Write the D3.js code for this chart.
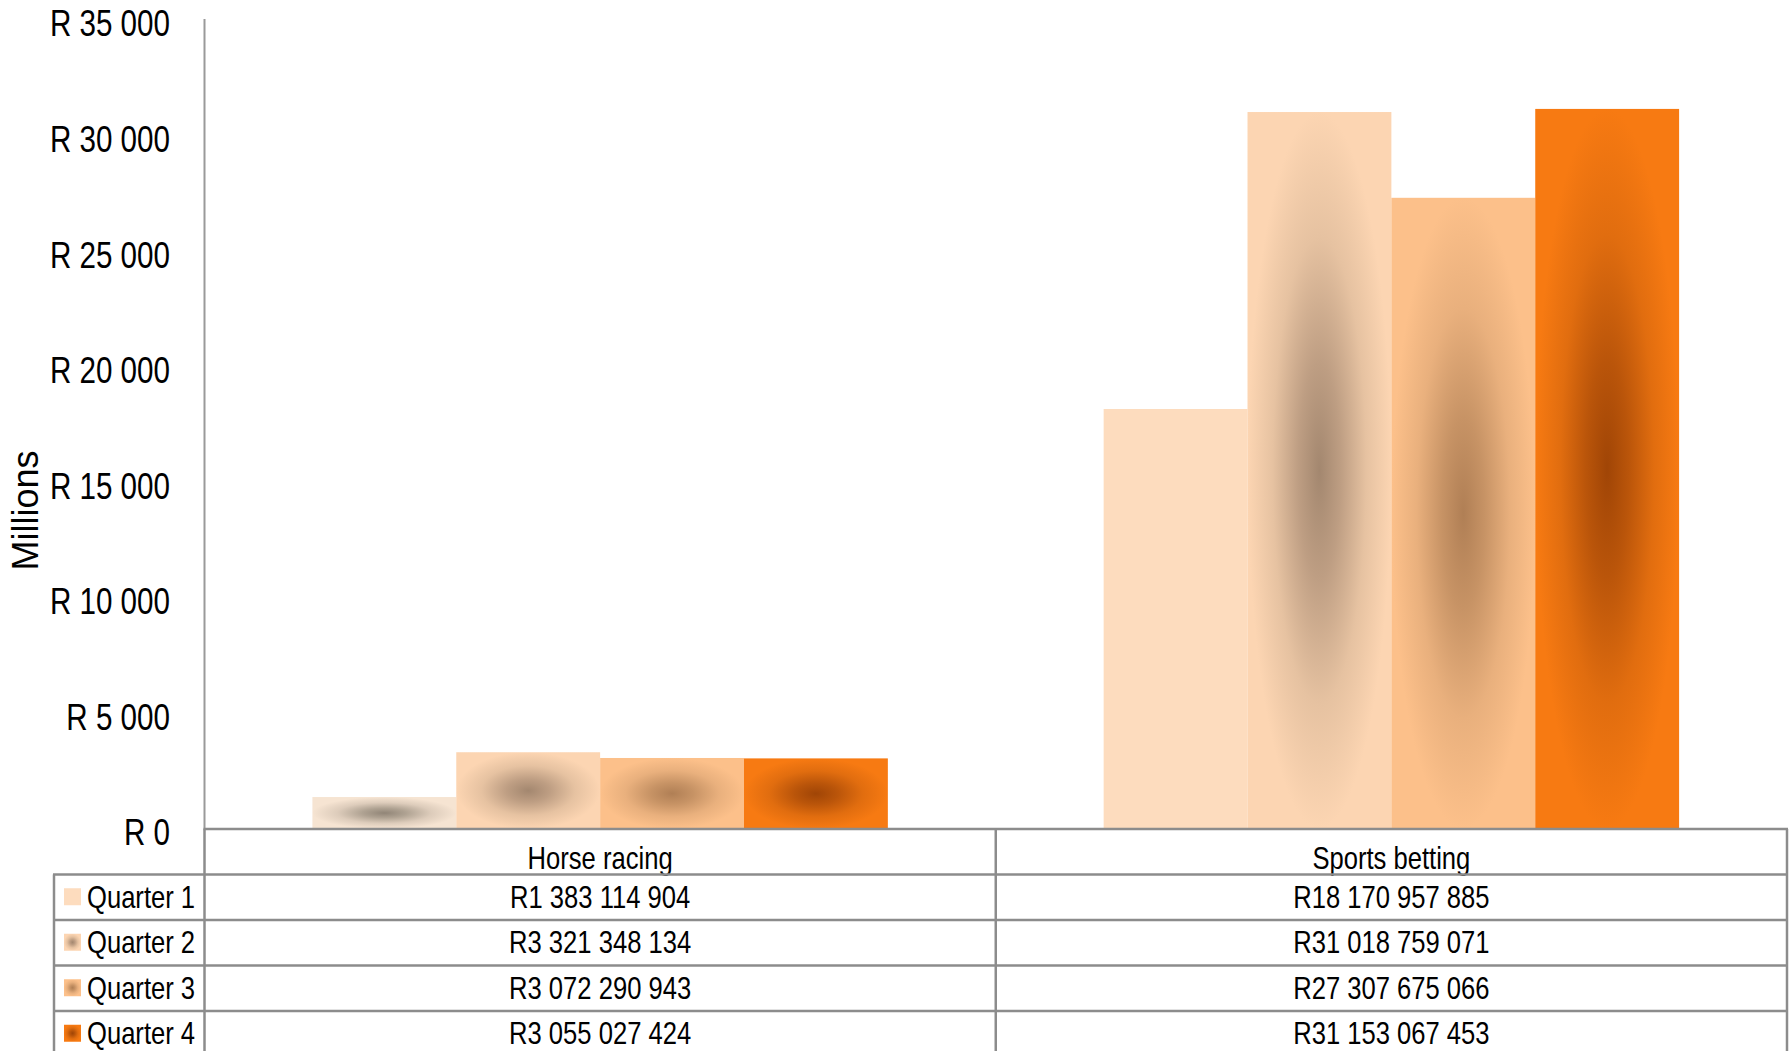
<!DOCTYPE html>
<html>
<head>
<meta charset="utf-8">
<script src="https://cdn.jsdelivr.net/npm/d3@7"></script>
<style>
  html, body { margin: 0; padding: 0; background: #fff; }
  svg { display: block; font-family: "Liberation Sans", Arial, sans-serif; }
</style>
</head>
<body>
<svg id="chart" width="1791" height="1051"></svg>
<script>
// Gambling turnover per quarter, in rand
const categories = ["Horse racing", "Sports betting"];
const quarters = ["Quarter 1", "Quarter 2", "Quarter 3", "Quarter 4"];
const horseRacing = [1383114904, 3321348134, 3072290943, 3055027424];
const sportsBetting = [18170957885, 31018759071, 27307675066, 31153067453];
const yTickValues = [0, 5000, 10000, 15000, 20000, 25000, 30000, 35000]; // millions
const yAxisTitle = "Millions";

const valuesByCategory = { "Horse racing": horseRacing, "Sports betting": sportsBetting };

// Fill styles per quarter: edge colour and centre colour of a centred radial shading
const quarterStyles = [
  { edge: "#f6e4d2", centre: "#918577", flat: "#fddcbe" },
  { edge: "#fcd5b2", centre: "#a3876f" },
  { edge: "#fcc08a", centre: "#b07f55" },
  { edge: "#f77a12", centre: "#a04506" }
];

const W = 1791, H = 1051;
const plotLeft = 204.5, plotRight = 1787, plotTop = 20, baseY = 829;
const rowH = 45.5, legendLeft = 54;
const squeeze = 0.8;                 // horizontal condensing of the label face
const lineColor = "#8c8c8c";

const svg = d3.select("#chart");
const defs = svg.append("defs");

quarterStyles.forEach((s, i) => {
  const mix = d3.interpolateRgb(s.centre, s.edge);
  const g = defs.append("radialGradient").attr("id", "qgrad" + i)
    .attr("cx", 0.5).attr("cy", 0.5).attr("r", 0.5);
  g.append("stop").attr("offset", 0).attr("stop-color", s.centre);
  g.append("stop").attr("offset", 0.3).attr("stop-color", mix(0.3));
  g.append("stop").attr("offset", 0.65).attr("stop-color", mix(0.75));
  g.append("stop").attr("offset", 1).attr("stop-color", s.edge);
});

function fillFor(cat, qi) {
  const s = quarterStyles[qi];
  if (s.flat && cat === "Sports betting") return s.flat;
  return "url(#qgrad" + qi + ")";
}

// Scales
const y = d3.scaleLinear().domain([0, 35000]).range([baseY, plotTop]);
const x0 = d3.scaleBand().domain(categories).range([plotLeft, plotRight]).paddingInner(0).paddingOuter(0);
const x1 = d3.scaleBand().domain(quarters).range([0, x0.bandwidth()]).paddingInner(0).paddingOuter(0.75);

// Bars
const groups = svg.append("g").selectAll("g").data(categories).join("g")
  .attr("transform", d => `translate(${x0(d)},0)`);
groups.selectAll("rect")
  .data(cat => valuesByCategory[cat].map((v, i) => ({ cat, q: quarters[i], qi: i, v: v / 1e6 })))
  .join("rect")
  .attr("x", d => x1(d.q))
  .attr("y", d => y(d.v))
  .attr("width", x1.bandwidth())
  .attr("height", d => y(0) - y(d.v))
  .attr("fill", d => fillFor(d.cat, d.qi));

// Y axis
const locale = d3.formatLocale({ decimal: ",", thousands: " ", grouping: [3], currency: ["R", ""] });
const axisFmt = v => "R " + locale.format(",.0f")(v);
const labelGap = 34.5;
const yAxis = svg.append("g").attr("transform", `translate(${plotLeft},0)`)
  .call(d3.axisLeft(y).tickValues(yTickValues).tickSize(0).tickFormat(axisFmt));
yAxis.select(".domain").remove();
yAxis.selectAll("text")
  .attr("x", -labelGap / squeeze)
  .attr("dy", "0.43em")
  .attr("transform", `scale(${squeeze},1)`)
  .attr("font-size", 37)
  .attr("font-family", "'Liberation Sans', Arial, sans-serif")
  .attr("fill", "#000");

svg.append("line")
  .attr("x1", plotLeft).attr("x2", plotLeft)
  .attr("y1", y(35000) - 1).attr("y2", baseY)
  .attr("stroke", "#9a9a9a").attr("stroke-width", 2);

svg.append("text")
  .attr("transform", `translate(38,${(y(35000) + y(0)) / 2 + 86}) rotate(-90)`)
  .attr("text-anchor", "middle")
  .attr("font-size", 36)
  .text(yAxisTitle);

// Data table under the plot
const moneyFmt = locale.format("$,.0f");
const table = svg.append("g");
const nRows = quarters.length;
const tableBottom = baseY + rowH * (nRows + 1);

function condensedText(parent, x, yPos, str, anchor, size) {
  parent.append("text")
    .attr("transform", `translate(${x},${yPos}) scale(${squeeze},1)`)
    .attr("text-anchor", anchor)
    .attr("font-size", size)
    .attr("fill", "#000")
    .text(str);
}

// Category header row
categories.forEach(cat => {
  condensedText(table, x0(cat) + x0.bandwidth() / 2, baseY + 40, cat, "middle", 32);
});

// Value rows with legend keys
quarters.forEach((q, i) => {
  const top = baseY + rowH * (i + 1);
  table.append("rect")
    .attr("x", legendLeft + 10).attr("y", top + rowH / 2 - 9)
    .attr("width", 17).attr("height", 17)
    .attr("fill", quarterStyles[i].flat || `url(#qgrad${i})`);
  condensedText(table, legendLeft + 33, top + 33, q, "start", 32);
  categories.forEach(cat => {
    condensedText(table, x0(cat) + x0.bandwidth() / 2, top + 33,
      moneyFmt(valuesByCategory[cat][i]), "middle", 32);
  });
});

// Grid lines of the table
const hLines = [{ y: baseY, xa: plotLeft, xb: plotRight }];
for (let i = 1; i <= nRows + 1; i++) hLines.push({ y: baseY + rowH * i, xa: legendLeft, xb: plotRight });
table.selectAll("line.h").data(hLines).join("line").attr("class", "h")
  .attr("x1", d => d.xa - 1).attr("x2", d => d.xb + 1)
  .attr("y1", d => d.y).attr("y2", d => d.y)
  .attr("stroke", lineColor).attr("stroke-width", 2.5);

const vLines = [
  { x: legendLeft, ya: baseY + rowH, yb: tableBottom },
  { x: plotLeft, ya: baseY, yb: tableBottom },
  ...categories.map(c => ({ x: x0(c) + x0.bandwidth(), ya: baseY, yb: tableBottom }))
];
table.selectAll("line.v").data(vLines).join("line").attr("class", "v")
  .attr("x1", d => d.x).attr("x2", d => d.x)
  .attr("y1", d => d.ya).attr("y2", d => d.yb)
  .attr("stroke", lineColor).attr("stroke-width", 2.5);
</script>
</body>
</html>
